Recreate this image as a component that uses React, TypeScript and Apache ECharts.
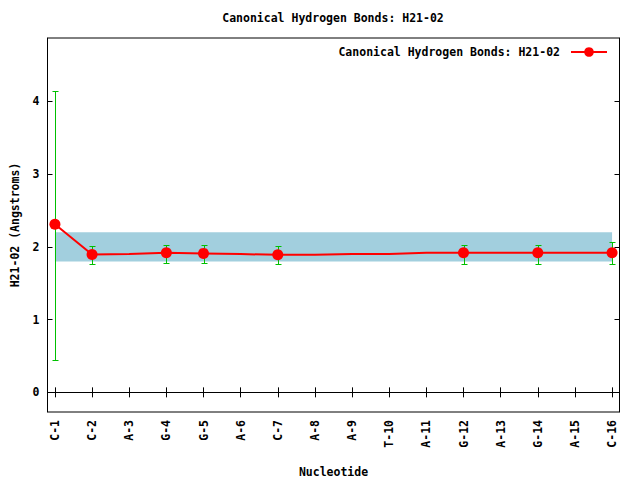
import React, { useEffect, useRef } from "react";
import * as echarts from "echarts";

const categories = ["C-1", "C-2", "A-3", "G-4", "G-5", "A-6", "C-7", "A-8", "A-9", "T-10", "A-11", "G-12", "A-13", "G-14", "A-15", "C-16"];
const values = [2.31, 1.895, 1.9, 1.918, 1.91, 1.9, 1.89, 1.89, 1.9, 1.9, 1.918, 1.92, 1.92, 1.92, 1.92, 1.92];
const markedIndex = [0, 1, 3, 4, 6, 11, 13, 15];
const errLow = [0.45, 1.76, 1.78, 1.78, 1.76, 1.77, 1.77, 1.77];
const errHigh = [4.14, 2.005, 2.03, 2.03, 2.005, 2.03, 2.03, 2.06];
const bandLow = 1.8;
const bandHigh = 2.2;
const yTicks = [0, 1, 2, 3, 4];
const seriesName = "Canonical Hydrogen Bonds: H21-02";
const titleText = "Canonical Hydrogen Bonds: H21-02";

const FONT = "'DejaVu Sans Mono', 'Liberation Mono', monospace";

export default function App() {
  const ref = useRef<HTMLDivElement>(null);
  useEffect(() => {
    const chart = echarts.init(ref.current!, undefined, { renderer: "svg" });
    const xPos = categories.map((_, i) => i + 1);
    const lineData = values.map((v, i) =>
      markedIndex.includes(i) ? { value: [i + 1, v] } : { value: [i + 1, v], symbol: "none" }
    );
    const errData = markedIndex.map((idx, k) => [idx + 1, errLow[k], errHigh[k]]);
    const bandData = [[1, bandLow, categories.length, bandHigh]];
    const textStyle = { fontFamily: FONT, fontWeight: "bold" as const, fontSize: 11.5, color: "#000" };
    const xMin = 0.8, xMax = 16.2, yMin = -0.27, yMax = 4.87;
    const option: any = {
      animation: false,
      backgroundColor: "#fff",
      graphic: [
        {
          type: "text",
          x: 333,
          y: 18,
          style: { text: titleText, textAlign: "center", textVerticalAlign: "middle", font: `bold 11.5px ${FONT}`, fill: "#000" },
        },
      ],
      grid: {
        left: 47.5, right: 20.5, top: 38, bottom: 68,
        containLabel: false, outerBoundsMode: "none",
        show: true, borderColor: "#000", borderWidth: 1, backgroundColor: "transparent",
      },
      legend: {
        right: 27,
        top: 41,
        align: "right",
        itemWidth: 36,
        itemHeight: 12,
        textStyle: { ...textStyle, padding: [0, 6, 0, 0] },
        data: [seriesName],
      },
      xAxis: [
        {
          type: "value",
          min: xMin,
          max: xMax,
          name: "Nucleotide",
          nameLocation: "middle",
          nameGap: 54,
          nameTextStyle: textStyle,
          axisLine: { show: true, lineStyle: { color: "#000" } },
          splitLine: { show: false },
          axisTick: { show: true, inside: true, length: 5, customValues: xPos, lineStyle: { color: "#000" } },
          axisLabel: {
            customValues: xPos,
            rotate: 90,
            margin: 8,
            ...textStyle,
            formatter: (v: number) => categories[Math.round(v) - 1] ?? "",
          },
        },
        {
          type: "value",
          position: "top",
          min: xMin,
          max: xMax,
          axisLine: { show: true, lineStyle: { color: "#000" } },
          splitLine: { show: false },
          axisTick: { show: true, inside: true, length: 5, customValues: xPos, lineStyle: { color: "#000" } },
          axisLabel: { show: false, customValues: xPos },
        },
      ],
      yAxis: [
        {
          type: "value",
          min: yMin,
          max: yMax,
          name: "H21-02 (Angstroms)",
          nameLocation: "middle",
          nameGap: 27,
          nameRotate: 90,
          nameTextStyle: textStyle,
          axisLine: { show: true, lineStyle: { color: "#000" } },
          splitLine: { show: false },
          axisTick: { show: true, inside: true, length: 5, customValues: yTicks, lineStyle: { color: "#000" } },
          axisLabel: { customValues: yTicks, margin: 8, ...textStyle },
        },
        {
          type: "value",
          position: "right",
          min: yMin,
          max: yMax,
          axisLine: { show: true, lineStyle: { color: "#000" } },
          splitLine: { show: false },
          axisTick: { show: true, inside: true, length: 5, customValues: yTicks, lineStyle: { color: "#000" } },
          axisLabel: { show: false, customValues: yTicks },
        },
      ],
      series: [
        {
          type: "custom",
          name: "band",
          z: 1,
          silent: true,
          data: bandData,
          encode: { x: [0, 2], y: [1, 3] },
          renderItem: (params: any, api: any) => {
            const p0 = api.coord([api.value(0), api.value(1)]);
            const p1 = api.coord([api.value(2), api.value(3)]);
            return {
              type: "rect",
              shape: { x: p0[0], y: p1[1], width: p1[0] - p0[0], height: p0[1] - p1[1] },
              style: { fill: "#a2cfde" },
            };
          },
        },
        {
          type: "custom",
          name: "err",
          z: 2,
          silent: true,
          data: errData,
          encode: { x: 0, y: [1, 2] },
          renderItem: (params: any, api: any) => {
            const x = api.value(0);
            const lo = api.coord([x, api.value(1)]);
            const hi = api.coord([x, api.value(2)]);
            const cx = Math.round(lo[0]) + 0.5;
            const yl = Math.round(lo[1]) + 0.5;
            const yh = Math.round(hi[1]) + 0.5;
            const c = 3;
            const st = { stroke: "#00c000", lineWidth: 1 };
            return {
              type: "group",
              children: [
                { type: "line", shape: { x1: cx, y1: yl, x2: cx, y2: yh }, style: st },
                { type: "line", shape: { x1: cx - c, y1: yl, x2: cx + c, y2: yl }, style: st },
                { type: "line", shape: { x1: cx - c, y1: yh, x2: cx + c, y2: yh }, style: st },
              ],
            };
          },
        },
        {
          type: "line",
          name: seriesName,
          z: 3,
          data: lineData,
          symbol: "circle",
          symbolSize: 11,
          showAllSymbol: true,
          lineStyle: { color: "#ff0000", width: 2 },
          itemStyle: { color: "#ff0000" },
        },
      ],
    };
    chart.setOption(option);
    return () => chart.dispose();
  }, []);
  return <div ref={ref} style={{ position: "fixed", left: 0, top: 0, width: 640, height: 480 }} />;
}
